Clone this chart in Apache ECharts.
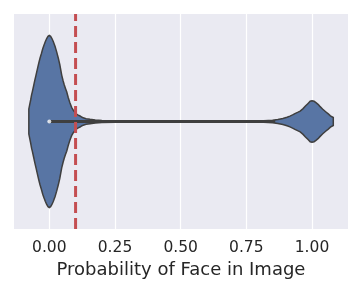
<!DOCTYPE html>
<html>
<head>
<meta charset="utf-8">
<script src="https://cdn.jsdelivr.net/npm/echarts@6/dist/echarts.min.js"></script>
<style>
html,body{margin:0;padding:0;background:#ffffff;}
#chart{width:361px;height:284px;}
</style>
</head>
<body>
<div id="chart"></div>
<script>
// Violin outline: position on the probability axis and relative width (peak = 1)
var densityX = [-0.078, -0.075, -0.071, -0.0675, -0.0647, -0.060, -0.0555, -0.0506, -0.045, -0.040,
  -0.0354, -0.030, -0.025, -0.020, -0.015, -0.010, -0.005, 0.0, 0.005, 0.010, 0.015, 0.0217, 0.028,
  0.0343, 0.040, 0.0472, 0.052, 0.0565, 0.0615, 0.0662, 0.072, 0.078, 0.085, 0.0914, 0.098, 0.104,
  0.110, 0.117, 0.123, 0.129, 0.140, 0.155, 0.175, 0.2, 0.25, 0.3, 0.4, 0.5, 0.6, 0.7, 0.8, 0.85,
  0.87, 0.889, 0.905, 0.916, 0.926, 0.935, 0.947, 0.955, 0.966, 0.975, 0.985, 0.993, 1.0, 1.008,
  1.015, 1.023, 1.03, 1.04, 1.053, 1.062, 1.07, 1.081];
var densityW = [0.144, 0.19, 0.25, 0.31, 0.345, 0.41, 0.475, 0.540, 0.615, 0.68,
  0.736, 0.79, 0.845, 0.89, 0.93, 0.965, 0.99, 1.0, 0.99, 0.965, 0.93, 0.875, 0.81,
  0.736, 0.66, 0.54, 0.48, 0.43, 0.385, 0.345, 0.28, 0.22, 0.165, 0.13, 0.105, 0.087,
  0.075, 0.064, 0.052, 0.043, 0.033, 0.025, 0.018, 0.013, 0.009, 0.007, 0.005, 0.003, 0.003, 0.005, 0.007, 0.014,
  0.024, 0.035, 0.05, 0.063, 0.077, 0.092, 0.109, 0.121, 0.15, 0.18, 0.21, 0.235, 0.241, 0.235,
  0.22, 0.2, 0.176, 0.145, 0.111, 0.088, 0.066, 0.046];
// Inner box: quartile line and median
var boxRange = [0.0, 0.86];
var medianValue = 0.0;
// Threshold line
var threshold = 0.1;
// Tick values and labels
var tickValues = [0, 0.25, 0.5, 0.75, 1.0];
var tickLabels = ['0.00', '0.25', '0.50', '0.75', '1.00'];
var axisTitle = 'Probability of Face in Image';

var HALF = 0.4; // violin half-width in category units

var chart = echarts.init(document.getElementById('chart'), null, {renderer: 'canvas'});
var FONT = 'DejaVu Sans';

var option = {
  animation: false,
  grid: {left: 14, right: 13, top: 14, bottom: 55, show: true, backgroundColor: '#eaeaf2', borderWidth: 0},
  xAxis: {
    type: 'value', min: -0.1344, max: 1.137,
    axisLine: {show: false}, axisTick: {show: false},
    splitLine: {show: false},
    axisLabel: {
      customValues: tickValues,
      formatter: function (v) {
        for (var i = 0; i < tickValues.length; i++) if (Math.abs(tickValues[i] - v) < 1e-9) return tickLabels[i];
        return '';
      },
      color: '#262626', fontSize: 15.5, fontFamily: FONT, margin: 11,
      showMinLabel: true, showMaxLabel: true
    },
    name: axisTitle, nameLocation: 'middle', nameGap: 30,
    nameTextStyle: {color: '#262626', fontSize: 18, fontFamily: FONT}
  },
  yAxis: {
    type: 'value', min: -0.5, max: 0.5,
    axisLine: {show: false}, axisTick: {show: false}, axisLabel: {show: false}, splitLine: {show: false}
  },
  series: [
    {
      type: 'line', data: [], silent: true, z: 1,
      markLine: {
        z: 1, silent: true, symbol: 'none', label: {show: false},
        lineStyle: {color: '#ffffff', width: 1.2, type: 'solid'},
        data: tickValues.map(function (v) { return {xAxis: v}; })
      }
    },
    {
      type: 'custom', z: 3, silent: true,
      data: [[0, 0]],
      renderItem: function (params, api) {
        var pts = [];
        for (var i = 0; i < densityX.length; i++) pts.push(api.coord([densityX[i], densityW[i] * HALF]));
        for (var j = densityX.length - 1; j >= 0; j--) pts.push(api.coord([densityX[j], -densityW[j] * HALF]));
        return {
          type: 'polygon',
          shape: {points: pts},
          style: {fill: '#5875a4', stroke: '#3f3f3f', lineWidth: 1.5}
        };
      }
    },
    {
      type: 'line', z: 4, silent: true, symbol: 'none',
      data: [[boxRange[0], 0], [boxRange[1], 0]],
      lineStyle: {color: '#3f3f3f', width: 3.2, cap: 'butt'}
    },
    {
      type: 'scatter', z: 5, silent: true,
      data: [[medianValue, 0]], symbolSize: 4,
      itemStyle: {color: '#ffffff', borderWidth: 0}
    },
    {
      type: 'line', z: 6, silent: true, symbol: 'none',
      data: [[threshold, -0.5], [threshold, 0.5]],
      lineStyle: {color: '#c44e52', width: 3, type: [11, 5], cap: 'butt'}
    }
  ]
};
chart.setOption(option);
</script>
</body>
</html>
